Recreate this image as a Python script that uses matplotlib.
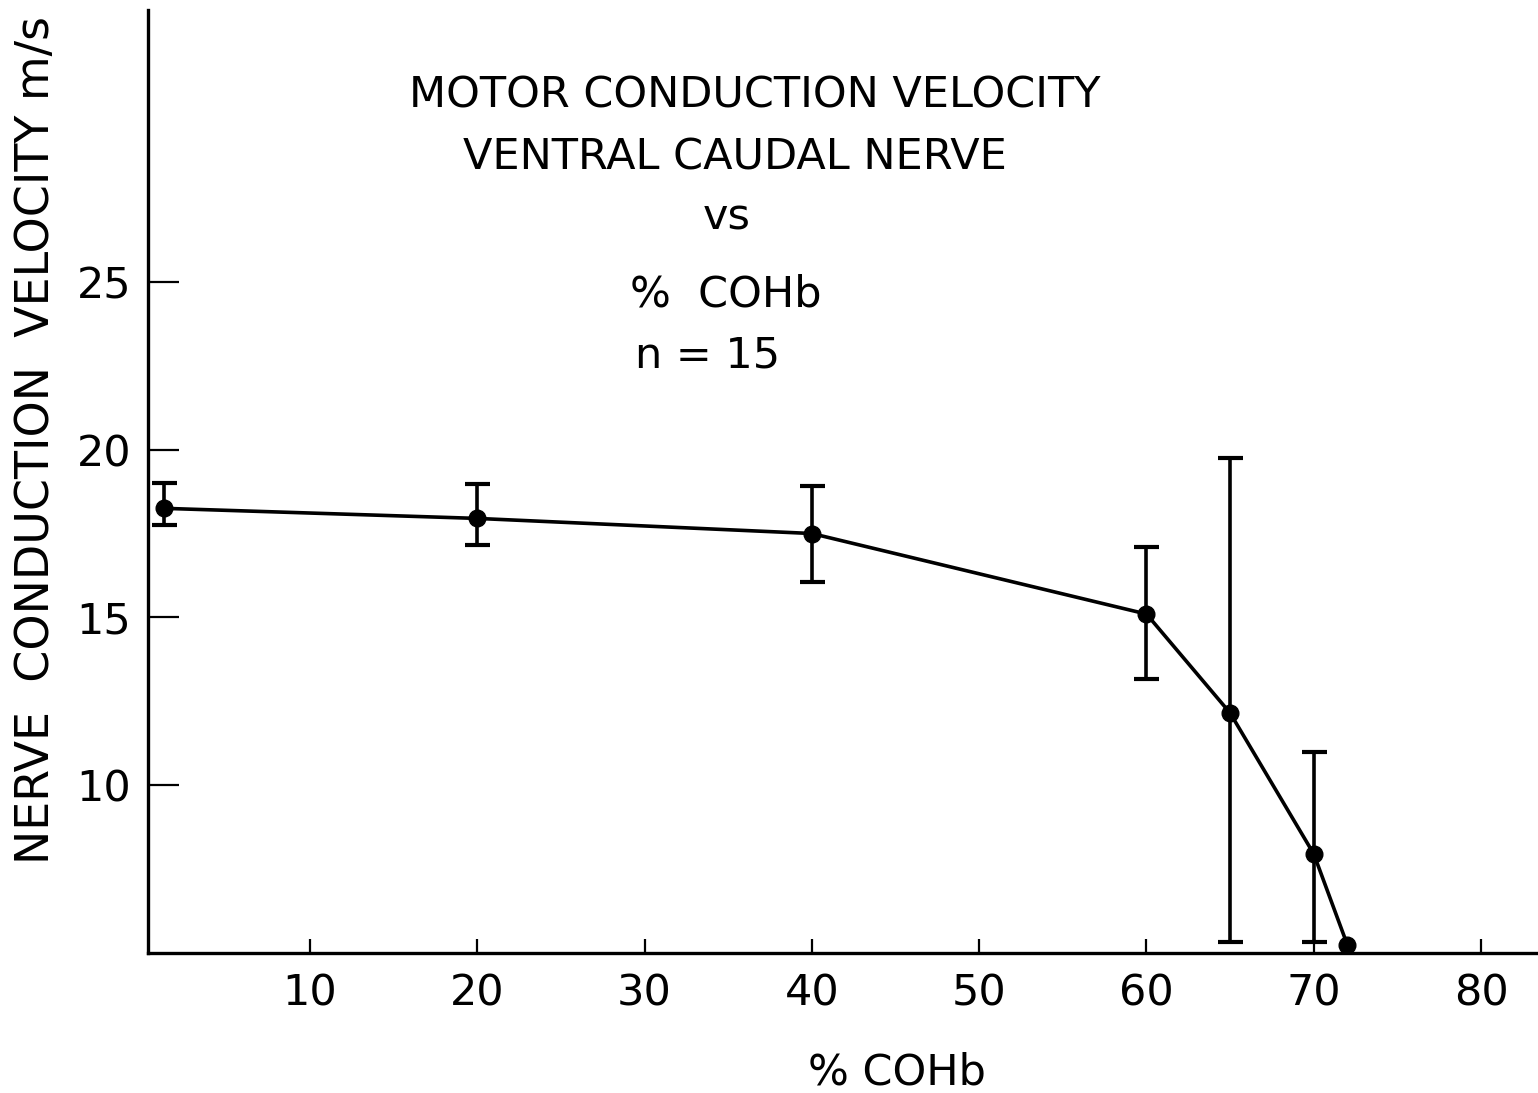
import numpy as np
import matplotlib
matplotlib.use("Agg")
import matplotlib.pyplot as plt

# % COHb vs nerve conduction velocity (m/s)
cohb = [1.3, 20, 40, 60, 65, 70, 72]
velocity = [18.25, 17.95, 17.5, 15.1, 12.15, 7.95, 5.25]
err_hi = [19.02, 18.98, 18.92, 17.1, 19.75, 11.0, np.nan]
err_lo = [17.75, 17.15, 16.07, 13.15, 5.33, 5.33, np.nan]

x_ticks = [10, 20, 30, 40, 50, 60, 70, 80]
y_ticks = [10, 15, 20, 25]

title_lines = ["MOTOR CONDUCTION VELOCITY", "VENTRAL CAUDAL NERVE", "vs", "%  COHb", "n = 15"]

plt.rcParams['font.family'] = ['DejaVu Sans']

fig = plt.figure(figsize=(15.38, 10.93), dpi=100)
ax = fig.add_axes([148 / 1538, 140 / 1093, 1 - 148 / 1538, 943 / 1093])

v = np.array(velocity)
yerr = np.array([v - np.array(err_lo), np.array(err_hi) - v])
ax.errorbar(cohb[:-1], velocity[:-1], yerr=yerr[:, :-1], fmt='none', ecolor='black',
            elinewidth=2.6, capsize=9, capthick=3)
ax.plot(cohb, velocity, color='black', lw=2.6, marker='o', markersize=12)

ax.set_xlim(0.32, 83.4)
ax.set_ylim(5.0, 33.1)

for s in ['top', 'right']:
    ax.spines[s].set_visible(False)
for s in ['left', 'bottom']:
    ax.spines[s].set_linewidth(2.4)

ax.set_xticks(x_ticks)
ax.set_yticks(y_ticks)
ax.tick_params(axis='x', direction='in', length=10, width=1.6, pad=14, labelsize=31)
ax.tick_params(axis='y', direction='in', length=22, width=1.6, pad=12, labelsize=31)

ax.set_xlabel("% COHb", fontsize=31)
ax.xaxis.set_label_coords(0.539, -0.104)
ax.set_ylabel("NERVE  CONDUCTION  VELOCITY m/s", fontsize=33)
ax.yaxis.set_label_coords(-0.064, 0.544)

ypos = [96, 158, 218, 295, 355]
xpos = [755, 735, 727, 726, 708]
for t, xp, yp in zip(title_lines, xpos, ypos):
    fig.text(xp / 1538, 1 - yp / 1093, t, ha='center', va='center', fontsize=31)

fig.savefig("out.png", dpi=100)
